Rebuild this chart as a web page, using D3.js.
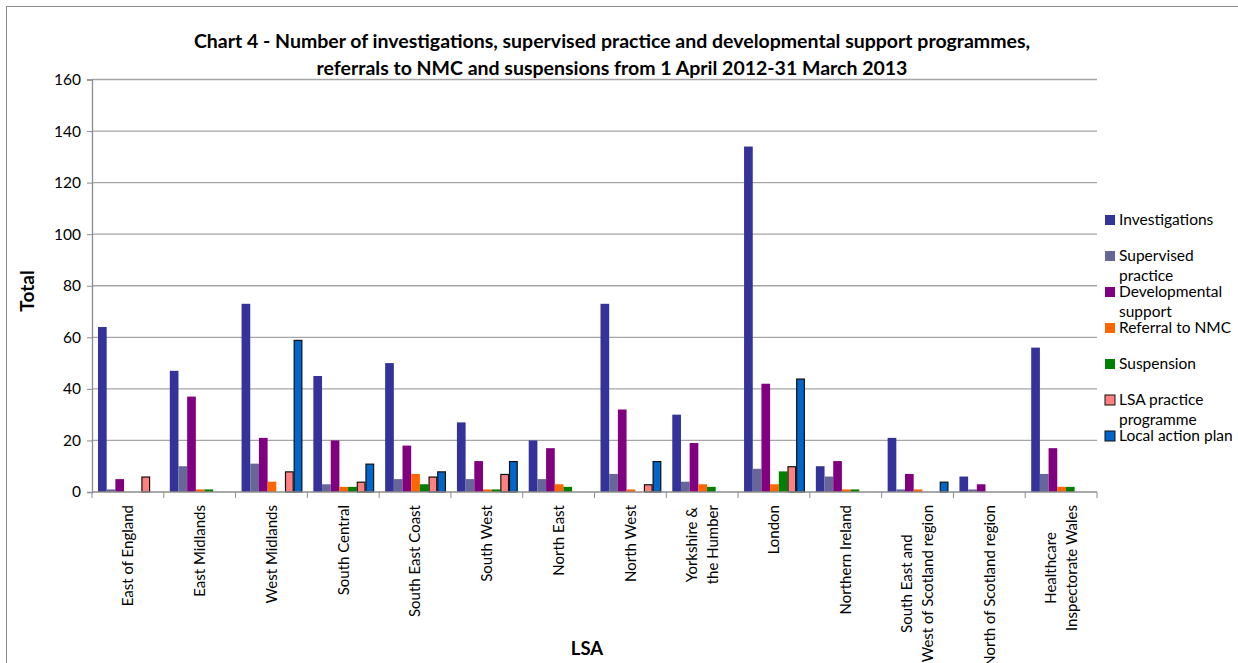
<!DOCTYPE html>
<html>
<head>
<meta charset="utf-8">
<script src="https://cdn.jsdelivr.net/npm/d3@7"></script>
<style>
  html, body { margin: 0; padding: 0; background: #fff; }
  svg { display: block; }
  text { font-family: Lato, "Open Sans", sans-serif; fill: #000; }
</style>
</head>
<body>
<svg id="chart" width="1238" height="663"></svg>
<script>
const categories = ["East of England","East Midlands","West Midlands","South Central","South East Coast","South West","North East","North West","Yorkshire &\nthe Humber","London","Northern Ireland","South East and\nWest of Scotland region","North of Scotland region","Healthcare\nInspectorate Wales"];
const seriesNames = ["Investigations","Supervised practice","Developmental support","Referral to NMC","Suspension","LSA practice programme","Local action plan"];
const legendLabels = [["Investigations"],["Supervised","practice"],["Developmental","support"],["Referral to NMC"],["Suspension"],["LSA practice","programme"],["Local action plan"]];
const investigations = [64,47,73,45,50,27,20,73,30,134,10,21,6,56];
const supervised     = [1,10,11,3,5,5,5,7,4,9,6,1,1,7];
const developmental  = [5,37,21,20,18,12,17,32,19,42,12,7,3,17];
const referral       = [0,1,4,2,7,1,3,1,3,3,1,1,0,2];
const suspension     = [0,1,0,2,3,1,2,0,2,8,1,0,0,2];
const lsaProgramme   = [6,0,8,4,6,7,0,3,0,10,0,0,0,0];
const localAction    = [0,0,59,11,8,12,0,12,0,44,0,4,0,0];
const yTicks = [0,20,40,60,80,100,120,140,160];
const colors = ["#333399","#666699","#800080","#FF6600","#008000","#FF8080","#0066CC"];
const outlined = [false,false,false,false,false,true,true];

const seriesValues = [investigations, supervised, developmental, referral, suspension, lsaProgramme, localAction];

const svg = d3.select("#chart");
const pLeft = 92, pRight = 1097, pTop = 79.5, pBottom = 492;

// frame
svg.append("rect").attr("x", 6.5).attr("y", 6.5).attr("width", 1300).attr("height", 700)
  .attr("fill", "none").attr("stroke", "#8c8c8c").attr("stroke-width", 1);

const x0 = d3.scaleBand().domain(d3.range(categories.length)).range([pLeft, pRight]).padding(0);
const x1 = d3.scaleBand().domain(d3.range(seriesNames.length)).range([6, x0.bandwidth() - 5]).padding(0);
const y = d3.scaleLinear().domain([0, 160]).range([pBottom, pTop]);

// gridlines
svg.append("g").selectAll("line").data(yTicks.filter(d => d > 0)).join("line")
  .attr("x1", pLeft).attr("x2", pRight)
  .attr("y1", d => y(d)).attr("y2", d => y(d))
  .attr("stroke", "#a6a6a6").attr("stroke-width", 1.3);

// y axis
const yAxis = d3.axisLeft(y).tickValues(yTicks).tickSize(5).tickPadding(6);
const gy = svg.append("g").attr("transform", `translate(${pLeft},0)`).call(yAxis);
gy.select(".domain").attr("stroke", "#8c8c8c").attr("stroke-width", 1.3);
gy.selectAll(".tick line").attr("stroke", "#8c8c8c");
gy.selectAll(".tick text").style("font-family", "Lato, sans-serif").style("font-size", "15.5px").attr("fill", "#000");

// bars
const groups = svg.append("g").selectAll("g").data(categories.map((c, i) => i)).join("g")
  .attr("transform", i => `translate(${x0(i)},0)`);
groups.selectAll("rect").data(i => seriesValues.map((vals, s) => ({s, v: vals[i]})).filter(d => d.v > 0)).join("rect")
  .attr("x", d => x1(d.s) + (outlined[d.s] ? 0.5 : 0))
  .attr("width", d => x1.bandwidth() - (outlined[d.s] ? 1 : 0))
  .attr("y", d => y(d.v) + (outlined[d.s] ? 0.5 : 0))
  .attr("height", d => y(0) - y(d.v) - (outlined[d.s] ? 0.5 : 0))
  .attr("fill", d => colors[d.s])
  .attr("stroke", d => outlined[d.s] ? "#111" : "none")
  .attr("stroke-width", 1.2);

// x axis
svg.append("line").attr("x1", pLeft).attr("x2", pRight).attr("y1", pBottom).attr("y2", pBottom)
  .attr("stroke", "#8c8c8c").attr("stroke-width", 1.3);
svg.append("g").selectAll("line").data(d3.range(categories.length + 1)).join("line")
  .attr("x1", i => pLeft + i * x0.step()).attr("x2", i => pLeft + i * x0.step())
  .attr("y1", pBottom).attr("y2", pBottom + 6)
  .attr("stroke", "#8c8c8c");

// x labels (rotated)
const labelTop = 505;
categories.forEach((c, i) => {
  const lines = c.split("\n");
  const cx = x0(i) + x0.bandwidth() / 2;
  const g = svg.append("g");
  const texts = lines.map((ln, k) => {
    const off = (k - (lines.length - 1) / 2) * 21;
    return g.append("text").text(ln)
      .style("font-size", "15px")
      .attr("text-anchor", "middle")
      .attr("dy", "0.35em")
      .attr("data-off", off);
  });
  const maxLen = d3.max(texts, t => t.node().getComputedTextLength());
  const cy = labelTop + maxLen / 2;
  texts.forEach(t => {
    const off = +t.attr("data-off");
    t.attr("transform", `translate(${cx + off},${cy}) rotate(-90)`);
  });
});

// titles
svg.append("text").attr("x", 612).attr("y", 48).attr("text-anchor", "middle")
  .style("font-size", "19.5px").style("font-weight", "bold")
  .text("Chart 4 - Number of investigations, supervised practice and developmental support programmes,");
svg.append("text").attr("x", 612).attr("y", 75).attr("text-anchor", "middle")
  .style("font-size", "19.5px").style("font-weight", "bold")
  .text("referrals to NMC and suspensions from 1 April 2012-31 March 2013");

svg.append("text").attr("transform", "translate(34,291) rotate(-90)").attr("text-anchor", "middle")
  .style("font-size", "19px").style("font-weight", "bold").text("Total");
svg.append("text").attr("x", 587).attr("y", 655).attr("text-anchor", "middle")
  .style("font-size", "18.5px").style("font-weight", "bold").text("LSA");

// legend
const lg = svg.append("g");
legendLabels.forEach((lines, s) => {
  const cy = 220 + s * 36;
  lg.append("rect").attr("x", 1105).attr("y", cy - 5).attr("width", 10).attr("height", 10)
    .attr("fill", colors[s])
    .attr("stroke", outlined[s] ? "#111" : "none").attr("stroke-width", 1);
  lines.forEach((ln, k) => {
    lg.append("text").attr("x", 1119).attr("y", cy + k * 19.5).attr("dy", "0.35em")
      .style("font-size", "15.5px").text(ln);
  });
});
</script>
</body>
</html>
